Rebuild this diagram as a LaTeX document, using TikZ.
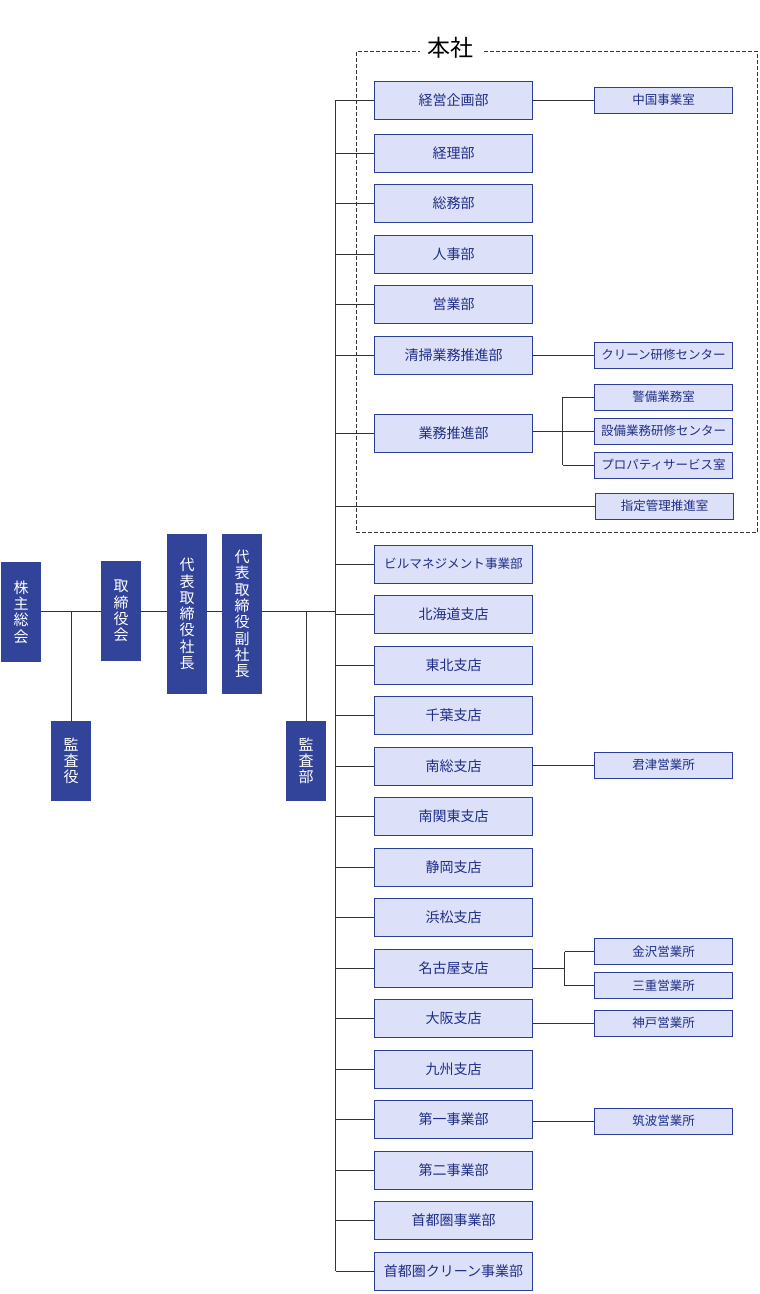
\documentclass[tikz,border=0pt]{standalone}
\usepackage{fontspec}
\setmainfont{Noto Sans CJK JP}
\definecolor{navy}{HTML}{32439A}
\definecolor{pale}{HTML}{DCE0F8}
\definecolor{edge}{HTML}{2D3E95}
\definecolor{ink}{HTML}{1F2E88}
\definecolor{wire}{HTML}{333333}
\begin{document}
\begin{tikzpicture}[x=1pt,y=-1pt,
  darkbox/.style={fill=navy, text=white, minimum width=40pt, inner sep=0pt, align=center, font=\fontsize{15}{16.3}\selectfont},
  mainbox/.style={draw=edge, fill=pale, text=ink, line width=1pt, minimum width=158pt, minimum height=38pt, inner sep=0pt, font=\fontsize{14}{16}\selectfont},
  subbox/.style={draw=edge, fill=pale, text=ink, line width=1pt, minimum width=138pt, minimum height=26pt, inner sep=0pt, font=\fontsize{12.5}{14}\selectfont},
  link/.style={draw=wire, line width=1pt}]
\useasboundingbox (0,0) rectangle (760,1294);

\draw[link, dash pattern=on 4pt off 2pt] (356.5,51.5) rectangle (757.5,532);
\node[fill=white, inner xsep=8pt, inner ysep=0pt, font=\fontsize{23}{25}\selectfont] (honsha) at (450.5,48){本社};

\coordinate (trk) at (335.5,0);
\coordinate (hl) at (0,611);
\coordinate (elb1) at (562.5,0);
\coordinate (elb2) at (564.5,0);

\node[darkbox, minimum height=100pt] (kabu) at (21,612){株\\主\\総\\会};
\node[darkbox, minimum height=100pt] (tori) at (121,611){取\\締\\役\\会};
\node[darkbox, minimum height=160pt] (pres) at (187,614){代\\表\\取\\締\\役\\社\\長};
\node[darkbox, minimum height=160pt] (vpres) at (242,614){代\\表\\取\\締\\役\\副\\社\\長};
\node[darkbox, minimum height=80pt] (kansayaku) at (71,761){監\\査\\役};
\node[darkbox, minimum height=80pt] (kansabu) at (306,761){監\\査\\部};
\draw[link](kabu.east |- hl) -- (tori.west |- hl);
\draw[link](tori.east |- hl) -- (pres.west |- hl);
\draw[link](pres.east |- hl) -- (vpres.west |- hl);
\draw[link](vpres.east |- hl) -- (trk |- hl);
\draw[link](kansayaku.north) -- (kansayaku.north |- hl);
\draw[link](kansabu.north) -- (kansabu.north |- hl);

\node[mainbox] (dep1) at (453.5,100){経営企画部};
\node[mainbox] (dep2) at (453.5,153){経理部};
\node[mainbox] (dep3) at (453.5,203.5){総務部};
\node[mainbox] (dep4) at (453.5,254){人事部};
\node[mainbox] (dep5) at (453.5,304.5){営業部};
\node[mainbox] (dep6) at (453.5,355){清掃業務推進部};
\node[mainbox] (dep7) at (453.5,433){業務推進部};
\node[mainbox, font=\fontsize{12.6}{14}\selectfont] (dep8) at (453.5,564){ビルマネジメント事業部};
\node[mainbox] (dep9) at (453.5,614.5){北海道支店};
\node[mainbox] (dep10) at (453.5,665){東北支店};
\node[mainbox] (dep11) at (453.5,715.5){千葉支店};
\node[mainbox] (dep12) at (453.5,766){南総支店};
\node[mainbox] (dep13) at (453.5,816.5){南関東支店};
\node[mainbox] (dep14) at (453.5,867){静岡支店};
\node[mainbox] (dep15) at (453.5,917.5){浜松支店};
\node[mainbox] (dep16) at (453.5,968){名古屋支店};
\node[mainbox] (dep17) at (453.5,1018.5){大阪支店};
\node[mainbox] (dep18) at (453.5,1069){九州支店};
\node[mainbox] (dep19) at (453.5,1119.5){第一事業部};
\node[mainbox] (dep20) at (453.5,1170){第二事業部};
\node[mainbox] (dep21) at (453.5,1220.5){首都圏事業部};
\node[mainbox] (dep22) at (453.5,1271){首都圏クリーン事業部};

\node[subbox] (sec1) at (663.5,100){中国事業室};
\node[subbox] (sec2) at (663.5,355){クリーン研修センター};
\node[subbox] (sec3) at (663.5,397){警備業務室};
\node[subbox] (sec4) at (663.5,431){設備業務研修センター};
\node[subbox] (sec5) at (663.5,465){プロパティサービス室};
\node[subbox] (sec6) at (664.5,506){指定管理推進室};
\node[subbox] (sec7) at (663.5,765){君津営業所};
\node[subbox] (sec8) at (663.5,951.5){金沢営業所};
\node[subbox] (sec9) at (663.5,985.5){三重営業所};
\node[subbox] (sec10) at (663.5,1023){神戸営業所};
\node[subbox] (sec11) at (663.5,1121){筑波営業所};

\draw[link](trk |- dep1) -- (trk |- dep22);
\draw[link](trk |- dep1) -- (dep1.west);
\draw[link](trk |- dep2) -- (dep2.west);
\draw[link](trk |- dep3) -- (dep3.west);
\draw[link](trk |- dep4) -- (dep4.west);
\draw[link](trk |- dep5) -- (dep5.west);
\draw[link](trk |- dep6) -- (dep6.west);
\draw[link](trk |- dep7) -- (dep7.west);
\draw[link](trk |- sec6) -- (sec6.west);
\draw[link](trk |- dep8) -- (dep8.west);
\draw[link](trk |- dep9) -- (dep9.west);
\draw[link](trk |- dep10) -- (dep10.west);
\draw[link](trk |- dep11) -- (dep11.west);
\draw[link](trk |- dep12) -- (dep12.west);
\draw[link](trk |- dep13) -- (dep13.west);
\draw[link](trk |- dep14) -- (dep14.west);
\draw[link](trk |- dep15) -- (dep15.west);
\draw[link](trk |- dep16) -- (dep16.west);
\draw[link](trk |- dep17) -- (dep17.west);
\draw[link](trk |- dep18) -- (dep18.west);
\draw[link](trk |- dep19) -- (dep19.west);
\draw[link](trk |- dep20) -- (dep20.west);
\draw[link](trk |- dep21) -- (dep21.west);
\draw[link](trk |- dep22) -- (dep22.west);

\draw[link](dep1.east) -- (sec1.west);
\draw[link](dep6.east) -- (sec2.west);
\draw[link](dep7.east |- sec4) -- (sec4.west);
\draw[link](elb1 |- sec3) -- (elb1 |- sec5);
\draw[link](elb1 |- sec3) -- (sec3.west);
\draw[link](elb1 |- sec5) -- (sec5.west);
\draw[link](dep12.east |- sec7) -- (sec7.west);
\draw[link](dep16.east) -- (elb2 |- dep16);
\draw[link](elb2 |- sec8) -- (elb2 |- sec9);
\draw[link](elb2 |- sec8) -- (sec8.west);
\draw[link](elb2 |- sec9) -- (sec9.west);
\draw[link](dep17.east |- sec10) -- (sec10.west);
\draw[link](dep19.east |- sec11) -- (sec11.west);

\end{tikzpicture}
\end{document}
